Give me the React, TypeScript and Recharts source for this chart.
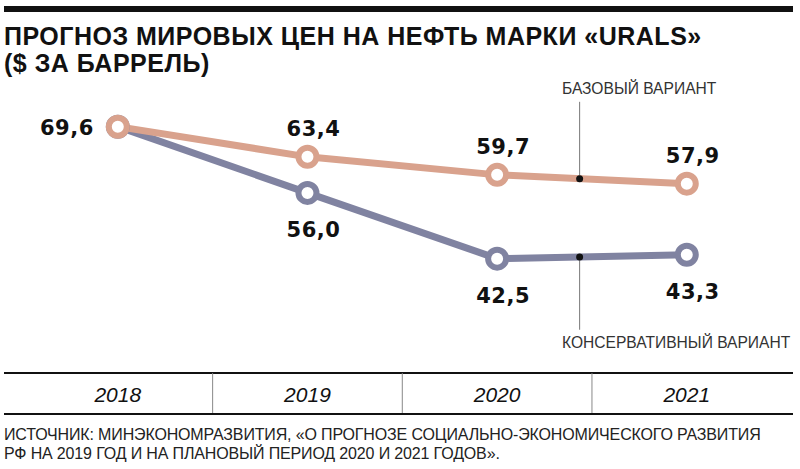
import React from 'react';
import {
    LineChart,
    Line,
    XAxis,
    YAxis,
    ReferenceLine,
    ReferenceDot,
    LabelList
} from 'recharts';

// Годы прогноза и значения ($ за баррель)
const YEARS = ['2018', '2019', '2020', '2021'];
const BASE = [69.6, 63.4, 59.7, 57.9];
const CONSERVATIVE = [69.6, 56.0, 42.5, 43.3];

const TITLE = ['ПРОГНОЗ МИРОВЫХ ЦЕН НА НЕФТЬ МАРКИ «URALS»', '($ ЗА БАРРЕЛЬ)'];
const SOURCE = [
    'ИСТОЧНИК: МИНЭКОНОМРАЗВИТИЯ, «О ПРОГНОЗЕ СОЦИАЛЬНО-ЭКОНОМИЧЕСКОГО РАЗВИТИЯ',
    'РФ НА 2019 ГОД И НА ПЛАНОВЫЙ ПЕРИОД 2020 И 2021 ГОДОВ».'
];
const BASE_NAME = 'БАЗОВЫЙ ВАРИАНТ';
const CONS_NAME = 'КОНСЕРВАТИВНЫЙ ВАРИАНТ';

const ORANGE = '#d9a28d';
const BLUE = '#8083a1';

const data = YEARS.map((year, i) => ({
    x: i,
    year,
    base: BASE[i],
    cons: CONSERVATIVE[i]
}));

// layout of the chart in value units
const X_DOMAIN: [number, number] = [-0.6, 3.56];
const Y_DOMAIN: [number, number] = [10.6, 80];
const TABLE_TOP = 19;
const ANNOT_X = 2.435;
const ANNOT_T = ANNOT_X - 2;
const baseAt = BASE[2] + (BASE[3] - BASE[2]) * ANNOT_T;
const consAt = CONSERVATIVE[2] + (CONSERVATIVE[3] - CONSERVATIVE[2]) * ANNOT_T;

const fmt = (v: number) => v.toFixed(1).replace('.', ',');

const labelStyle = {
    fontFamily: '"DejaVu Sans", sans-serif',
    fontWeight: 700,
    fontSize: 21,
    fill: '#111',
    letterSpacing: 0.5
};

const BaseLabel = (props: any) => {
    const { x, y, value, index } = props;
    if (index === 0) {
        return (
            <text x={x - 24} y={y + 8} textAnchor="end" style={labelStyle}>{fmt(value)}</text>
        );
    }
    return (
        <text x={x + 6} y={y - 21} textAnchor="middle" style={labelStyle}>{fmt(value)}</text>
    );
};

const ConsLabel = (props: any) => {
    const { x, y, value, index } = props;
    if (index === 0) return null;
    return (
        <text x={x + 6} y={y + 44} textAnchor="middle" style={labelStyle}>{fmt(value)}</text>
    );
};

const YearTick = (props: any) => {
    const { x, y, payload } = props;
    return (
        <text
            x={x}
            y={y - 12}
            textAnchor="middle"
            style={{ fontFamily: '"Liberation Sans", Arial, sans-serif', fontStyle: 'italic', fontSize: 21, fill: '#111' }}
        >
            {YEARS[payload.value]}
        </text>
    );
};

const dot = (color: string) => ({ r: 9, fill: '#fff', stroke: color, strokeWidth: 6 });

const noteStyle: React.CSSProperties = {
    position: 'absolute',
    fontFamily: '"Liberation Sans", Arial, sans-serif',
    fontSize: 15.6,
    lineHeight: '18px',
    color: '#333',
    whiteSpace: 'nowrap'
};

export default function App() {
    return (
        <div style={{ position: 'absolute', left: 0, top: 0, width: 800, height: 469, background: '#fff', overflow: 'hidden' }}>
            <LineChart
                width={800}
                height={469}
                data={data}
                margin={{ top: 76, right: 7, bottom: 0, left: 4 }}
            >
                <XAxis
                    type="number"
                    dataKey="x"
                    domain={X_DOMAIN}
                    ticks={[0, 1, 2, 3]}
                    tick={<YearTick />}
                    tickLine={false}
                    tickSize={0}
                    tickMargin={0}
                    axisLine={{ stroke: '#111', strokeWidth: 2 }}
                    height={55}
                    allowDataOverflow
                />
                <YAxis hide type="number" domain={Y_DOMAIN} allowDataOverflow />

                <ReferenceLine y={TABLE_TOP} stroke="#111" strokeWidth={2} />
                {[0.5, 1.5, 2.5].map((v) => (
                    <ReferenceLine key={v} segment={[{ x: v, y: Y_DOMAIN[0] }, { x: v, y: TABLE_TOP }]} stroke="#888" strokeWidth={1} />
                ))}

                <ReferenceLine segment={[{ x: ANNOT_X, y: baseAt }, { x: ANNOT_X, y: 74.7 }]} stroke="#777" strokeWidth={1} />
                <ReferenceLine segment={[{ x: ANNOT_X, y: consAt }, { x: ANNOT_X, y: 27.9 }]} stroke="#777" strokeWidth={1} />

                <Line
                    dataKey="cons"
                    stroke={BLUE}
                    strokeWidth={7}
                    dot={dot(BLUE)}
                    activeDot={false}
                    isAnimationActive={false}
                >
                    <LabelList dataKey="cons" content={<ConsLabel />} />
                </Line>
                <Line
                    dataKey="base"
                    stroke={ORANGE}
                    strokeWidth={7}
                    dot={dot(ORANGE)}
                    activeDot={false}
                    isAnimationActive={false}
                >
                    <LabelList dataKey="base" content={<BaseLabel />} />
                </Line>

                <ReferenceDot x={ANNOT_X} y={baseAt} r={3.5} fill="#111" stroke="none" />
                <ReferenceDot x={ANNOT_X} y={consAt} r={3.5} fill="#111" stroke="none" />
            </LineChart>

            <div style={{ position: 'absolute', left: 4, top: 6, width: 789, height: 6, background: '#111' }} />
            <div
                style={{
                    position: 'absolute', left: 4, top: 23,
                    fontFamily: '"Liberation Sans", Arial, sans-serif', fontWeight: 900,
                    fontSize: 25, lineHeight: '27px', color: '#111', whiteSpace: 'nowrap', letterSpacing: 0.5
                }}
            >
                {TITLE.map((t) => <div key={t}>{t}</div>)}
            </div>

            <div style={{ ...noteStyle, left: 562, top: 80 }}>{BASE_NAME}</div>
            <div style={{ ...noteStyle, left: 562, top: 334 }}>{CONS_NAME}</div>

            <div
                style={{
                    position: 'absolute', left: 4, top: 425,
                    fontFamily: '"Liberation Sans", Arial, sans-serif',
                    fontSize: 16, lineHeight: '19px', color: '#222', whiteSpace: 'nowrap', letterSpacing: -0.15
                }}
            >
                {SOURCE.map((t) => <div key={t}>{t}</div>)}
            </div>
        </div>
    );
}
